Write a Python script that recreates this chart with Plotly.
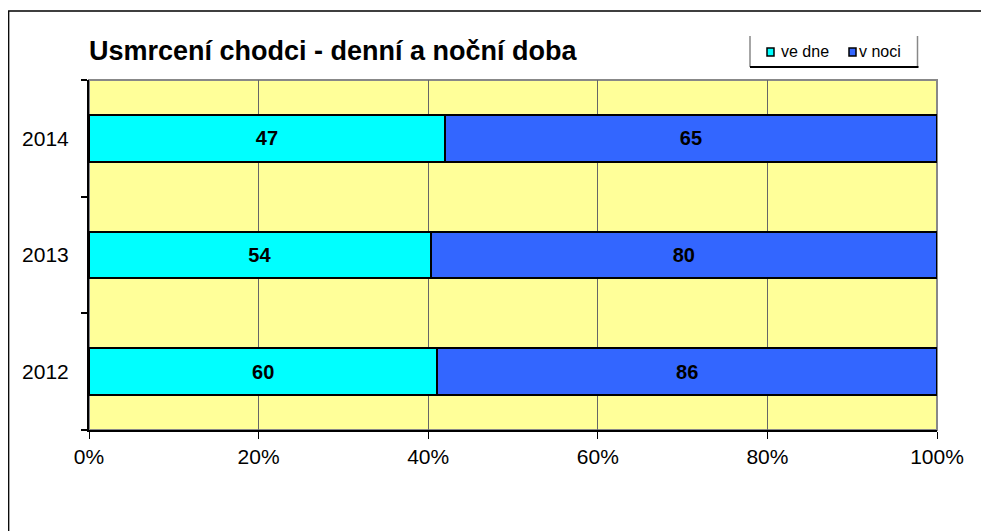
import plotly.graph_objects as go

years = ["2012", "2013", "2014"]
ve_dne = [60, 54, 47]
v_noci = [86, 80, 65]
x_ticks = [0, 20, 40, 60, 80, 100]
x_tick_labels = ["0%", "20%", "40%", "60%", "80%", "100%"]
title_text = "Usmrcení chodci - denní a noční doba"
series_names = ["ve dne", "v noci"]
colors = ["#00FFFF", "#3366FF"]

OFF = 8  # page body margin
W, H = 989 - OFF, 531 - OFF
L, R, T, B = 89 - OFF, 937 - OFF, 80 - OFF, 430 - OFF
FONT = "Liberation Sans, Arial, sans-serif"


def px(x):
    # x given in screen pixels of the reference
    return (x - OFF - L) / (R - L)


def py(y):
    return (B - (y - OFF)) / (B - T)


fig = go.Figure()
for name, vals, col in zip(series_names, [ve_dne, v_noci], colors):
    fig.add_trace(go.Bar(
        y=years, x=vals, name=name, orientation="h",
        marker=dict(color=col, line=dict(color="black", width=2)),
        text=vals, texttemplate="%{text}", textposition="inside",
        insidetextanchor="middle", constraintext="none",
        textfont=dict(family=FONT, size=20, color="black", weight="bold"),
        showlegend=False, hoverinfo="skip",
    ))

shapes = []
# outer chart frame
shapes.append(dict(type="rect", xref="paper", yref="paper",
                   x0=px(8.7), x1=px(1010), y0=py(11), y1=py(560),
                   line=dict(color="black", width=1.3), layer="above"))
# plot area gray border
shapes.append(dict(type="rect", xref="paper", yref="paper",
                   x0=0, x1=1, y0=0, y1=1,
                   line=dict(color="#888888", width=2), layer="below"))
# legend box
shapes.append(dict(type="line", xref="paper", yref="paper",
                   x0=px(750), x1=px(750), y0=py(36), y1=py(67),
                   line=dict(color="#888888", width=1.5)))
shapes.append(dict(type="line", xref="paper", yref="paper",
                   x0=px(917.5), x1=px(917.5), y0=py(36), y1=py(67),
                   line=dict(color="#888888", width=1.5)))
shapes.append(dict(type="line", xref="paper", yref="paper",
                   x0=px(750), x1=px(918.5), y0=py(67), y1=py(67),
                   line=dict(color="black", width=2)))

annotations = [dict(text="<b>" + title_text + "</b>", xref="paper", yref="paper",
                    x=px(87), y=py(51), xanchor="left", yanchor="middle",
                    showarrow=False, font=dict(family=FONT, size=27, color="black"))]

leg_sq_x = [767, 849]
leg_txt_x = [779, 857]
for sx, tx, name, col in zip(leg_sq_x, leg_txt_x, series_names, colors):
    shapes.append(dict(type="rect", xref="paper", yref="paper",
                       x0=px(sx), x1=px(sx + 7), y0=py(48), y1=py(56),
                       fillcolor=col, line=dict(color="black", width=1.5)))
    annotations.append(dict(text=name, xref="paper", yref="paper",
                            x=px(tx), y=py(51.5), xanchor="left", yanchor="middle",
                            showarrow=False,
                            font=dict(family=FONT, size=16, color="black")))

fig.update_layout(
    width=W, height=H,
    margin=dict(l=L, r=W - R, t=T, b=H - B, pad=0),
    paper_bgcolor="white", plot_bgcolor="#FFFF99",
    barmode="stack", barnorm="percent", bargap=0.6,
    shapes=shapes, annotations=annotations,
    showlegend=False,
    font=dict(family=FONT, color="black"),
    xaxis=dict(range=[0, 100], tickvals=x_ticks, ticktext=x_tick_labels,
               showgrid=True, gridcolor="#666666", gridwidth=1,
               zeroline=False, showline=True, linecolor="black", linewidth=2,
               ticks="outside", ticklen=7, tickcolor="black", tickwidth=1,
               tickfont=dict(family=FONT, size=21, color="black")),
    yaxis=dict(type="category", categoryorder="array", categoryarray=years,
               showgrid=False, zeroline=False,
               showline=True, linecolor="black", linewidth=2,
               ticks="outside", tickson="boundaries", ticklen=6,
               tickcolor="black", tickwidth=1.5,
               tickfont=dict(family=FONT, size=21, color="black"),
               ticklabelstandoff=14),
)

fig.write_html("out.html")
